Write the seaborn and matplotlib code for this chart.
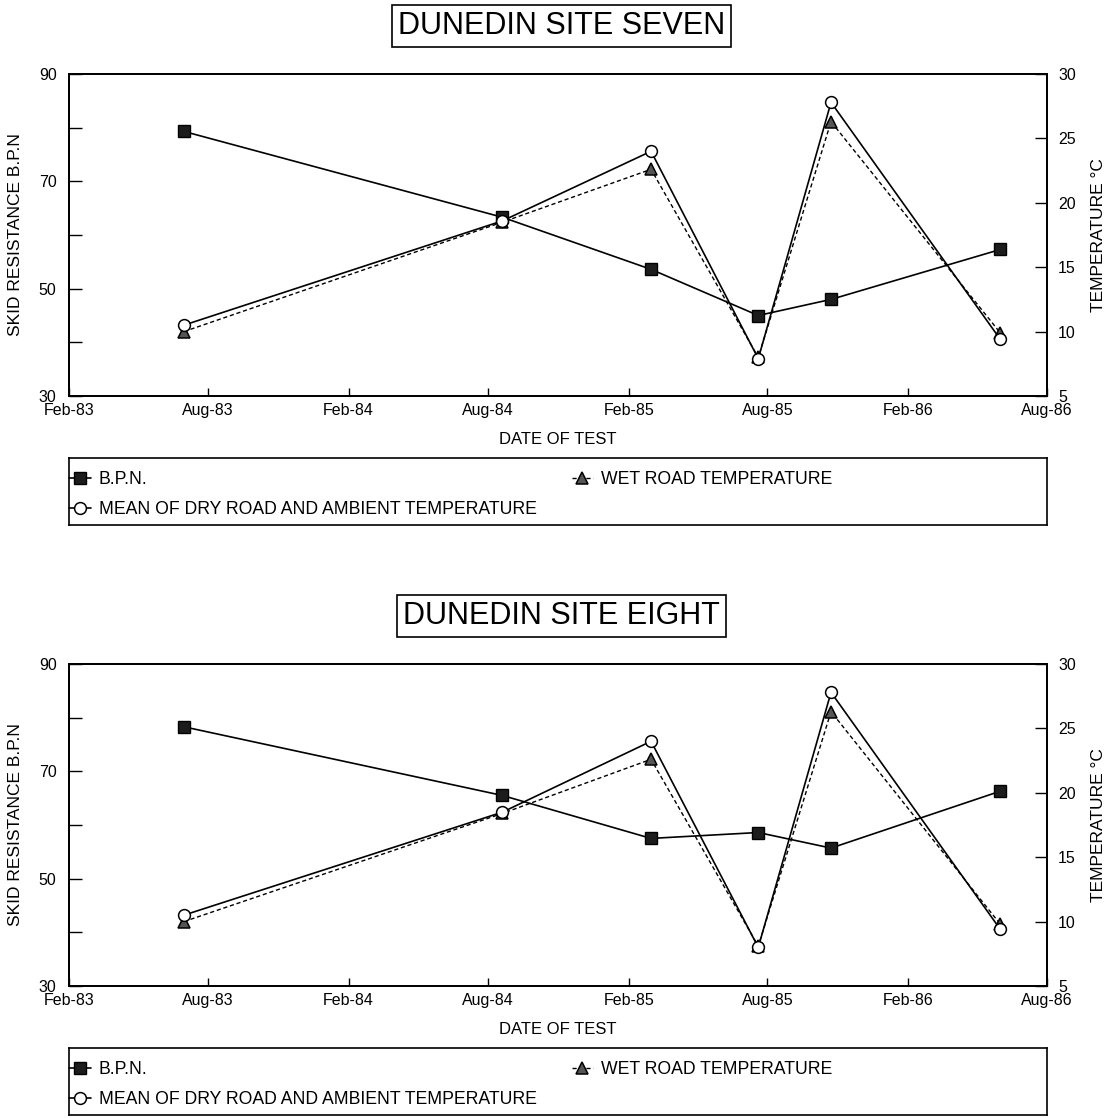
import numpy as np
import pandas as pd
import matplotlib.pyplot as plt
import matplotlib.dates as mdates
from matplotlib.ticker import FixedLocator, FixedFormatter
import seaborn as sns

# ── Data ─────────────────────────────────────────────────────────────────────
TEST_DATES = ['1983-07-01', '1984-08-20', '1985-03-02',
              '1985-07-20', '1985-10-23', '1986-06-01']

SITE_NAMES = ['DUNEDIN SITE SEVEN', 'DUNEDIN SITE EIGHT']

BPN_SEVEN       = [79.3, 63.3, 53.6, 45.0, 48.0, 57.3]
MEAN_TEMP_SEVEN = [10.5, 18.6, 24.0, 7.9, 27.8, 9.4]
WET_TEMP_SEVEN  = [10.0, 18.5, 22.6, 8.0, 26.3, 9.9]

BPN_EIGHT       = [78.3, 65.5, 57.5, 58.6, 55.7, 66.3]
MEAN_TEMP_EIGHT = [10.5, 18.5, 24.0, 8.0, 27.8, 9.4]
WET_TEMP_EIGHT  = [10.0, 18.4, 22.6, 8.1, 26.3, 9.8]

LEGEND_LABELS = ['B.P.N.', 'WET ROAD TEMPERATURE',
                 'MEAN OF DRY ROAD AND AMBIENT TEMPERATURE']

BPN_TICKS   = [30, 40, 50, 60, 70, 80, 90]
BPN_LABELS  = ['30', '', '50', '', '70', '', '90']
TEMP_TICKS  = [5, 10, 15, 20, 25, 30]

W, H = 1113, 1118

sns.set_style('ticks', {'axes.edgecolor': 'black', 'text.color': 'black',
                        'xtick.color': 'black', 'ytick.color': 'black',
                        'axes.labelcolor': 'black'})
plt.rcParams['font.family'] = ['Liberation Sans', 'DejaVu Sans']

fig = plt.figure(figsize=(W / 100, H / 100), dpi=100)
dates = pd.to_datetime(TEST_DATES)


def fy(py):
    return 1 - py / H


def draw_site(off, name, bpn, mean_t, wet_t):
    ax = fig.add_axes([69 / W, fy(396 + off), 978 / W, 322 / H])
    ax2 = ax.twinx()

    sns.lineplot(x=dates, y=bpn, ax=ax, color='black', lw=1.2,
                 marker='s', ms=8.5, mfc='#1c1c1c', mec='black', mew=1,
                 errorbar=None, legend=False)
    h_bpn = ax.lines[-1]

    sns.lineplot(x=dates, y=wet_t, ax=ax2, color='black', lw=1.0,
                 linestyle=(0, (3, 2)), marker='^', ms=8, mfc='#555555',
                 mec='black', mew=1.1, errorbar=None, legend=False)
    h_wet = ax2.lines[-1]

    sns.lineplot(x=dates, y=mean_t, ax=ax2, color='black', lw=1.2,
                 marker='o', ms=8.5, mfc='white', mec='black', mew=1.1,
                 errorbar=None, legend=False)
    h_mean = ax2.lines[-1]

    ax.set_xlim(pd.Timestamp('1983-02-01'), pd.Timestamp('1986-08-01'))
    ax.xaxis.set_major_locator(mdates.MonthLocator(bymonth=[2, 8]))
    ax.xaxis.set_major_formatter(mdates.DateFormatter('%b-%y'))

    ax.set_ylim(30, 90)
    ax.yaxis.set_major_locator(FixedLocator(BPN_TICKS))
    ax.yaxis.set_major_formatter(FixedFormatter(BPN_LABELS))
    ax2.set_ylim(5, 30)
    ax2.set_yticks(TEMP_TICKS)

    for a in (ax, ax2):
        for s in a.spines.values():
            s.set_linewidth(1.3)
            s.set_visible(True)
    ax.tick_params(axis='y', direction='in', length=9, width=1, pad=9, labelsize=11.5)
    ax.tick_params(axis='x', direction='in', length=6, width=1, pad=5, labelsize=11.5)
    ax2.tick_params(axis='y', direction='in', length=9, width=1, pad=8, labelsize=11.5)

    ax.set_xlabel('DATE OF TEST', fontsize=12, labelpad=10)
    ax.set_ylabel('SKID RESISTANCE B.P.N', fontsize=12.5, labelpad=11)
    ax2.set_ylabel('TEMPERATURE °C', fontsize=12.5, labelpad=11)

    fig.text(561.5 / W, fy(26 + off), name, ha='center', va='center',
             fontsize=22,
             bbox=dict(boxstyle='square,pad=0.2', fc='white', ec='black', lw=1.2))

    # legend box under the plot
    lax = fig.add_axes([69 / W, fy(525 + off), 978 / W, 67 / H])
    lax.set_xticks([])
    lax.set_yticks([])
    for s in lax.spines.values():
        s.set_linewidth(1.2)
    leg_kw = dict(loc='upper left', frameon=False, borderpad=0, borderaxespad=0,
                  handlelength=1.2, handletextpad=0.45, labelspacing=0.75,
                  fontsize=12.7)
    leg1 = lax.legend([h_bpn, h_mean], [LEGEND_LABELS[0], LEGEND_LABELS[2]],
                      bbox_to_anchor=(0.0005, 0.81), **leg_kw)
    lax.add_artist(leg1)
    lax.legend([h_wet], [LEGEND_LABELS[1]], bbox_to_anchor=(0.514, 0.81), **leg_kw)


draw_site(0, SITE_NAMES[0], BPN_SEVEN, MEAN_TEMP_SEVEN, WET_TEMP_SEVEN)
draw_site(590, SITE_NAMES[1], BPN_EIGHT, MEAN_TEMP_EIGHT, WET_TEMP_EIGHT)

fig.savefig('out.png', dpi=100)
